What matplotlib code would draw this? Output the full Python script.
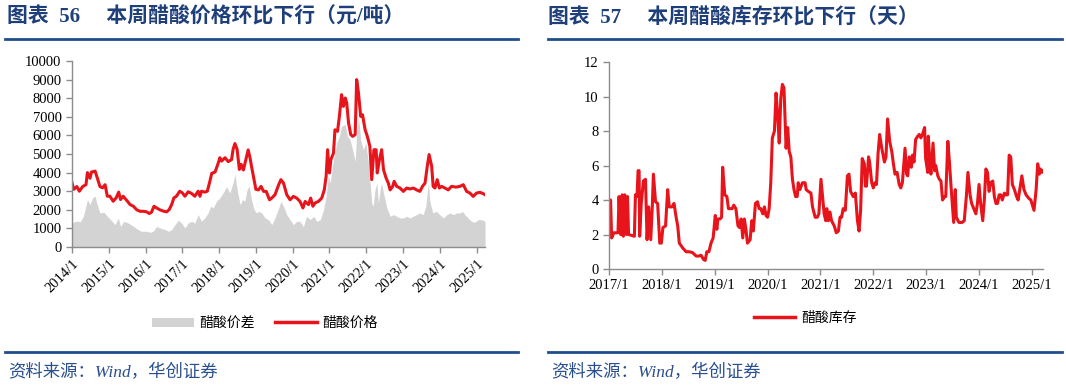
import matplotlib
matplotlib.use("Agg")
import matplotlib.pyplot as plt
from matplotlib.lines import Line2D
from matplotlib.patches import Patch

# ---------------- data: left chart (decimal year, yuan/ton) ----------------
price_t = [2014.00, 2014.05, 2014.13, 2014.20, 2014.29, 2014.38, 2014.42, 2014.49, 2014.53, 2014.63,
           2014.69, 2014.76, 2014.83, 2014.90, 2014.96, 2015.03, 2015.12, 2015.20, 2015.27, 2015.32,
           2015.39, 2015.47, 2015.58, 2015.67, 2015.76, 2015.85, 2015.94, 2016.03, 2016.10, 2016.16,
           2016.23, 2016.30, 2016.39, 2016.50, 2016.57, 2016.64, 2016.71, 2016.77, 2016.84, 2016.93,
           2017.00, 2017.07, 2017.16, 2017.25, 2017.34, 2017.43, 2017.48, 2017.52, 2017.61, 2017.68,
           2017.75, 2017.80, 2017.89, 2017.98, 2018.02, 2018.07, 2018.16, 2018.25, 2018.34, 2018.38,
           2018.43, 2018.49, 2018.55, 2018.60, 2018.66, 2018.75, 2018.79, 2018.84, 2018.88, 2018.95,
           2019.00, 2019.07, 2019.14, 2019.21, 2019.28, 2019.37, 2019.43, 2019.52, 2019.62, 2019.68,
           2019.75, 2019.84, 2019.93, 2020.02, 2020.11, 2020.20, 2020.28, 2020.34, 2020.43, 2020.49,
           2020.55, 2020.61, 2020.70, 2020.79, 2020.86, 2020.91, 2020.95, 2021.00, 2021.04, 2021.11,
           2021.15, 2021.22, 2021.27, 2021.33, 2021.38, 2021.43, 2021.47, 2021.52, 2021.58, 2021.63,
           2021.70, 2021.74, 2021.79, 2021.85, 2021.90, 2021.97, 2022.03, 2022.10, 2022.15, 2022.21,
           2022.27, 2022.30, 2022.36, 2022.42, 2022.47, 2022.54, 2022.60, 2022.65, 2022.72, 2022.76,
           2022.83, 2022.92, 2023.01, 2023.10, 2023.19, 2023.28, 2023.37, 2023.46, 2023.53, 2023.60,
           2023.66, 2023.71, 2023.78, 2023.82, 2023.87, 2023.93, 2023.99, 2024.05, 2024.14, 2024.23,
           2024.32, 2024.44, 2024.55, 2024.64, 2024.73, 2024.82, 2024.91, 2025.00, 2025.09, 2025.18,
           2025.23]
price_v = [3450, 3100, 3250, 3000, 3250, 3350, 4000, 3700, 4030, 4080,
           3700, 3250, 3180, 3350, 2730, 2730, 2460, 2640, 2950, 2550,
           2730, 2550, 2280, 2190, 2000, 1920, 1920, 1890, 1800, 1870,
           2190, 2100, 2000, 1920, 1890, 2000, 2280, 2640, 2730, 3000,
           2910, 2730, 2970, 2880, 2730, 3000, 2730, 3000, 2950, 3000,
           3540, 3960, 4030, 4530, 4800, 4620, 4800, 4590, 4700, 5250,
           5560, 5250, 4170, 4440, 4140, 4890, 5220, 4800, 4350, 3630,
           3100, 3070, 3260, 2990, 2990, 2540, 2630, 2810, 3350, 3620,
           3440, 2810, 2540, 2720, 2630, 2450, 2100, 2450, 2280, 2630,
           2190, 2370, 2450, 2630, 3070, 3800, 5230, 3980, 4700, 5050,
           6300, 6220, 7020, 8190, 7560, 8010, 7740, 6670, 6040, 5950,
           6040, 9000, 8280, 7020, 7110, 6310, 5950, 5410, 3620, 5230,
           5230, 3980, 4700, 5230, 4160, 3710, 3440, 3070, 3260, 3530,
           3260, 3170, 2990, 3170, 3120, 3170, 3070, 2990, 3260, 3440,
           4340, 4970, 4340, 3260, 3170, 3620, 3170, 3260, 3170, 3070,
           3260, 3220, 3260, 3350, 2990, 2900, 2720, 2900, 2940, 2870,
           2810]

spread_t = [2014.00, 2014.13, 2014.22, 2014.31, 2014.42, 2014.49, 2014.56, 2014.63, 2014.67, 2014.76,
            2014.87, 2014.96, 2015.05, 2015.17, 2015.26, 2015.32, 2015.41, 2015.53, 2015.67, 2015.80,
            2015.89, 2016.03, 2016.12, 2016.21, 2016.30, 2016.39, 2016.53, 2016.62, 2016.71, 2016.80,
            2016.89, 2016.98, 2017.07, 2017.16, 2017.25, 2017.34, 2017.43, 2017.52, 2017.61, 2017.70,
            2017.77, 2017.84, 2017.93, 2018.02, 2018.11, 2018.20, 2018.29, 2018.38, 2018.43, 2018.49,
            2018.57, 2018.64, 2018.70, 2018.76, 2018.82, 2018.88, 2018.95, 2019.02, 2019.07, 2019.16,
            2019.25, 2019.34, 2019.43, 2019.52, 2019.62, 2019.68, 2019.75, 2019.84, 2019.93, 2020.02,
            2020.11, 2020.20, 2020.29, 2020.38, 2020.48, 2020.57, 2020.66, 2020.75, 2020.84, 2020.91,
            2020.97, 2021.02, 2021.11, 2021.20, 2021.27, 2021.33, 2021.43, 2021.49, 2021.56, 2021.63,
            2021.70, 2021.74, 2021.79, 2021.85, 2021.92, 2021.99, 2022.06, 2022.15, 2022.19, 2022.24,
            2022.29, 2022.33, 2022.38, 2022.42, 2022.47, 2022.56, 2022.65, 2022.74, 2022.83, 2022.92,
            2023.01, 2023.10, 2023.19, 2023.28, 2023.37, 2023.46, 2023.55, 2023.62, 2023.69, 2023.73,
            2023.81, 2023.91, 2024.00, 2024.10, 2024.19, 2024.28, 2024.37, 2024.46, 2024.55, 2024.62,
            2024.68, 2024.77, 2024.86, 2024.95, 2025.05, 2025.14, 2025.23]
spread_v = [1300, 1400, 1350, 1650, 2550, 2280, 2640, 2730, 2370, 1830,
            1870, 1650, 1470, 1200, 1560, 1110, 1380, 1290, 1110, 935,
            845, 845, 790, 845, 1110, 1025, 935, 845, 935, 1200,
            1440, 1290, 1025, 1290, 1380, 1290, 1740, 1380, 1560, 1830,
            2190, 2100, 2460, 2640, 2910, 3240, 2910, 3450, 3900, 3090,
            2280, 2550, 2460, 3090, 3270, 2550, 2010, 1830, 1920, 1830,
            1560, 1470, 1200, 1560, 2100, 2460, 2190, 1740, 1470, 1200,
            1380, 1380, 1090, 1650, 1470, 1650, 1380, 1470, 2000, 2720,
            3800, 3440, 4700, 5590, 5950, 6490, 6580, 5950, 5770, 5230,
            4610, 6130, 7000, 5770, 5230, 5590, 4520, 2370, 2190, 3080,
            3440, 2370, 3080, 3440, 2900, 2100, 1650, 1740, 1650, 1560,
            1560, 1650, 1560, 1650, 1740, 1830, 1740, 2190, 3440, 2460,
            1830, 1920, 1740, 1560, 1740, 1830, 1740, 1830, 1830, 1920,
            1740, 1560, 1380, 1330, 1470, 1470, 1380]

left_years = list(range(2014, 2026))
left_labels = [f"{y}/1" for y in left_years]

# ---------------- data: right chart (decimal year, days) ----------------
inv_t = [2017.00, 2017.03, 2017.05, 2017.09, 2017.17, 2017.19, 2017.22, 2017.25, 2017.27, 2017.30,
         2017.33, 2017.35, 2017.37, 2017.48, 2017.50, 2017.53, 2017.55, 2017.57, 2017.58, 2017.61,
         2017.65, 2017.69, 2017.72, 2017.75, 2017.79, 2017.82, 2017.84, 2017.88, 2017.92, 2017.96,
         2017.99, 2018.02, 2018.07, 2018.11, 2018.14, 2018.19, 2018.23, 2018.27, 2018.30, 2018.33,
         2018.40, 2018.46, 2018.52, 2018.58, 2018.65, 2018.70, 2018.74, 2018.79, 2018.82, 2018.85,
         2018.89, 2018.93, 2018.97, 2019.01, 2019.04, 2019.06, 2019.10, 2019.13, 2019.15, 2019.19,
         2019.23, 2019.26, 2019.33, 2019.36, 2019.40, 2019.44, 2019.47, 2019.50, 2019.53, 2019.56,
         2019.59, 2019.62, 2019.67, 2019.70, 2019.73, 2019.77, 2019.81, 2019.84, 2019.87, 2019.91,
         2019.94, 2019.97, 2020.00, 2020.03, 2020.06, 2020.09, 2020.13, 2020.16, 2020.19, 2020.22,
         2020.25, 2020.28, 2020.31, 2020.35, 2020.38, 2020.41, 2020.44, 2020.47, 2020.50, 2020.53,
         2020.56, 2020.58, 2020.61, 2020.66, 2020.71, 2020.73, 2020.77, 2020.82, 2020.85, 2020.90,
         2020.94, 2020.97, 2021.01, 2021.04, 2021.07, 2021.10, 2021.12, 2021.15, 2021.18, 2021.21,
         2021.26, 2021.30, 2021.34, 2021.37, 2021.40, 2021.43, 2021.47, 2021.51, 2021.54, 2021.57,
         2021.62, 2021.66, 2021.70, 2021.73, 2021.76, 2021.79, 2021.83, 2021.85, 2021.87, 2021.91,
         2021.93, 2021.97, 2022.00, 2022.03, 2022.06, 2022.09, 2022.12, 2022.16, 2022.21, 2022.24,
         2022.27, 2022.31, 2022.35, 2022.38, 2022.41, 2022.45, 2022.49, 2022.52, 2022.55, 2022.60,
         2022.63, 2022.65, 2022.68, 2022.72, 2022.74, 2022.77, 2022.80, 2022.84, 2022.87, 2022.90,
         2022.93, 2022.97, 2022.99, 2023.03, 2023.04, 2023.07, 2023.09, 2023.13, 2023.16, 2023.18,
         2023.22, 2023.25, 2023.28, 2023.31, 2023.35, 2023.37, 2023.41, 2023.44, 2023.47, 2023.50,
         2023.52, 2023.55, 2023.57, 2023.62, 2023.68, 2023.72, 2023.76, 2023.79, 2023.83, 2023.86,
         2023.90, 2023.94, 2023.97, 2024.00, 2024.03, 2024.07, 2024.10, 2024.13, 2024.16, 2024.19,
         2024.22, 2024.26, 2024.29, 2024.32, 2024.35, 2024.38, 2024.41, 2024.44, 2024.48, 2024.51,
         2024.54, 2024.57, 2024.60, 2024.63, 2024.67, 2024.71, 2024.74, 2024.77, 2024.81, 2024.85,
         2024.89, 2024.94, 2024.98, 2025.01, 2025.04, 2025.08, 2025.11, 2025.14, 2025.16, 2025.19,
         2025.21]
inv_v = [4.0, 4.0, 1.8, 2.1, 2.1, 4.2, 2.0, 4.3, 1.9, 4.3,
         2.0, 4.2, 2.0, 1.9, 4.3, 4.2, 5.7, 5.7, 1.9, 3.8,
         5.1, 5.2, 1.7, 3.6, 1.7, 3.7, 5.5, 3.9, 3.8, 1.5,
         1.5, 2.4, 2.5, 4.6, 3.6, 3.6, 3.8, 3.0, 2.5, 1.5,
         1.2, 1.0, 1.0, 0.95, 0.75, 0.75, 0.8, 0.55, 0.5, 1.0,
         1.0, 1.5, 1.8, 3.1, 2.3, 2.9, 2.9, 3.0, 5.9, 4.3,
         4.2, 3.5, 3.5, 3.7, 3.5, 2.5, 2.4, 2.9, 1.8, 2.9,
         2.3, 1.5, 1.7, 2.8, 2.2, 3.8, 3.9, 3.5, 3.5, 3.2,
         3.6, 3.1, 3.0, 3.5, 5.0, 7.6, 8.0, 10.2, 9.0, 7.3,
         9.9, 10.7, 10.5, 7.0, 8.2, 6.8, 6.5, 5.2, 4.6, 4.2,
         4.2, 5.0, 4.6, 5.0, 5.0, 4.6, 4.5, 4.4, 3.6, 3.0,
         3.0, 3.2, 5.2, 4.2, 3.2, 2.8, 3.5, 2.8, 3.3, 2.8,
         2.5, 2.1, 2.2, 3.0, 3.0, 3.5, 3.4, 5.4, 5.5, 4.5,
         4.2, 4.4, 2.8, 2.2, 3.4, 6.4, 6.1, 4.8, 4.8, 6.5,
         6.2, 5.0, 4.7, 5.0, 4.9, 6.7, 7.8, 7.0, 6.2, 6.5,
         8.7, 7.4, 6.8, 6.1, 5.5, 5.6, 4.9, 4.7, 5.0, 7.0,
         5.5, 5.4, 6.5, 5.9, 6.6, 6.2, 7.5, 7.7, 7.8, 7.6,
         7.8, 8.2, 6.4, 5.6, 7.7, 6.2, 5.5, 7.3, 5.7, 6.0,
         5.4, 5.2, 5.1, 4.0, 4.2, 4.2, 7.4, 6.2, 4.8, 3.5,
         2.7, 4.6, 3.0, 2.7, 2.7, 2.8, 4.2, 5.6, 4.3, 3.8,
         3.5, 3.2, 3.8, 4.9, 3.8, 2.8, 4.0, 5.8, 5.6, 4.5,
         5.0, 5.1, 4.2, 3.8, 3.8, 4.3, 4.3, 4.0, 4.4, 4.3,
         4.3, 6.6, 6.5, 4.9, 4.6, 4.2, 4.0, 4.6, 5.4, 4.6,
         4.3, 4.1, 4.0, 3.7, 3.4, 4.6, 6.1, 5.5, 5.8, 5.6,
         5.7]

right_years = list(range(2017, 2026))
right_labels = [f"{y}/1" for y in right_years]

# ---------------- styling ----------------
RED = "#E8141C"
GRAY = "#D3D3D3"
NAVY = "#1F3F7A"
SRC_BLUE = "#2A4F8F"
BLUE_LINE = "#1F4E8C"
SPINE = "#8C8C8C"
CJK = ["Noto Sans CJK SC", "DejaVu Sans"]
SERIF = ["Liberation Serif", "Noto Sans CJK SC"]

W, H = 1066, 387
fig = plt.figure(figsize=(W / 100, H / 100), dpi=100)


def fx(px):
    return px / W


def fy(py):
    return 1 - py / H


def style_axes(ax):
    for s in ["top", "right"]:
        ax.spines[s].set_visible(False)
    for s in ["left", "bottom"]:
        ax.spines[s].set_color(SPINE)
        ax.spines[s].set_linewidth(1.0)
    ax.tick_params(axis="both", colors=SPINE, length=4, width=1, labelcolor="black",
                   labelsize=10.5)
    for lab in ax.get_xticklabels() + ax.get_yticklabels():
        lab.set_family("Liberation Serif")


# ---- left chart ----
ax1 = fig.add_axes([fx(72), fy(247), fx(485 - 72), (247 - 61) / H])
ax1.fill_between(spread_t, spread_v, 0, color=GRAY, linewidth=0, label="醋酸价差")
ax1.plot(price_t, price_v, color=RED, linewidth=2.2, label="醋酸价格")
ax1.set_xlim(2014.0, 2025.23)
ax1.set_ylim(0, 10000)
ax1.set_yticks(range(0, 10001, 1000))
ax1.set_xticks(left_years)
ax1.set_xticklabels(left_labels, rotation=45, ha="right", rotation_mode="anchor")
style_axes(ax1)

# ---- right chart ----
ax2 = fig.add_axes([fx(609), fy(269), fx(1043 - 609), (269 - 62) / H])
ax2.plot(inv_t, inv_v, color=RED, linewidth=2.2, label="醋酸库存")
ax2.set_xlim(2017.0, 2025.21)
ax2.set_ylim(0, 12)
ax2.set_yticks(range(0, 13, 2))
ax2.set_xticks(right_years)
ax2.set_xticklabels(right_labels)
style_axes(ax2)

# ---- titles ----
fig.text(fx(7), fy(17), "图表  56     本周醋酸价格环比下行（元/吨）", family=SERIF,
         fontweight="bold", fontsize=15, color=NAVY, va="center", ha="left")
fig.text(fx(548), fy(17), "图表  57     本周醋酸库存环比下行（天）", family=SERIF,
         fontweight="bold", fontsize=15, color=NAVY, va="center", ha="left")

# ---- header / footer rules ----
for (x0, x1) in [(5, 518), (548, 1062)]:
    for yy in (39, 352):
        fig.add_artist(Line2D([fx(x0), fx(x1)], [fy(yy), fy(yy)], color=BLUE_LINE,
                              linewidth=2.0, transform=fig.transFigure))

# ---- sources ----
for x0 in (8, 551):
    fig.text(fx(x0), fy(373), "资料来源：Wind，华创证券", family=SERIF, fontsize=12.5,
             color=SRC_BLUE, va="center", ha="left", style="italic")

# ---- legends ----
h1 = [Patch(facecolor=GRAY, edgecolor="none"), Line2D([], [], color=RED, linewidth=2.5)]
fig.legend(h1, ["醋酸价差", "醋酸价格"], loc="center",
           bbox_to_anchor=(fx(265), fy(323)), ncol=2, frameon=False,
           prop={"family": CJK, "size": 10}, handlelength=3.0, handleheight=0.6,
           columnspacing=1.5, handletextpad=0.4)
h2 = [Line2D([], [], color=RED, linewidth=2.5)]
fig.legend(h2, ["醋酸库存"], loc="center", bbox_to_anchor=(fx(805), fy(318)),
           ncol=1, frameon=False, prop={"family": CJK, "size": 10},
           handlelength=3.0, handletextpad=0.4)

fig.savefig("out.png", dpi=100)
